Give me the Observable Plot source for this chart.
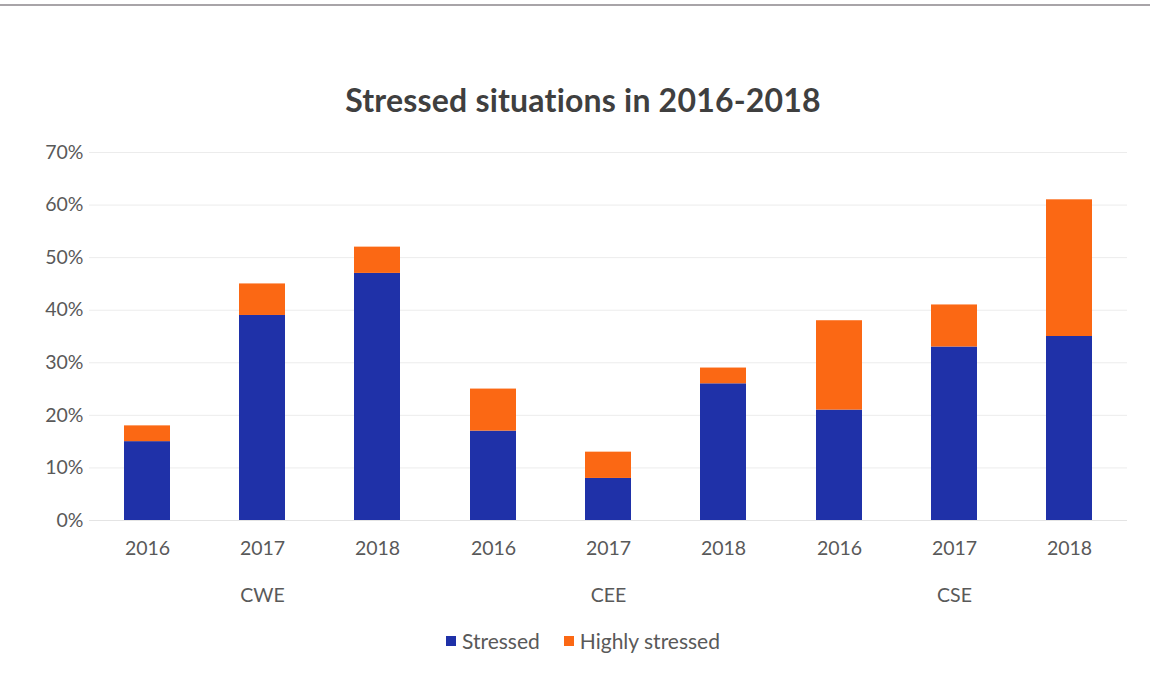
<!DOCTYPE html>
<html>
<head>
<meta charset="utf-8">
<script src="https://cdn.jsdelivr.net/npm/d3@7"></script>
<script src="https://cdn.jsdelivr.net/npm/@observablehq/plot@0.6"></script>
<style>
  html, body { margin: 0; padding: 0; background: #fff; }
  body { width: 1150px; height: 678px; overflow: hidden; font-family: Lato, "Open Sans", sans-serif; }
  #topline { position: absolute; left: 0; top: 4px; width: 1150px; height: 2px; background: #a8a4a8; }
  #title { position: absolute; left: 0; top: 80px; width: 1166px; text-align: center; font-size: 32px; font-weight: bold; color: #3f3f3f; letter-spacing: 0.2px; }
  #chart { position: absolute; left: 0; top: 130px; }
  #legend { position: absolute; left: 0; top: 628px; width: 1166px; display: flex; justify-content: center; gap: 24px; font-size: 21px; color: #595959; }
  .item { display: flex; align-items: center; gap: 6px; }
  .sw { width: 10px; height: 10px; display: inline-block; }
</style>
</head>
<body>
<div id="topline"></div>
<div id="title">Stressed situations in 2016-2018</div>
<div id="chart"></div>
<div id="legend"></div>
<script>
const regions = ["CWE", "CEE", "CSE"];
const years = ["2016", "2017", "2018"];
const seriesNames = ["Stressed", "Highly stressed"];
const seriesColors = ["#1f31a8", "#fb6814"];
// values in percent, order: CWE 2016..2018, CEE 2016..2018, CSE 2016..2018
const stressed = [15, 39, 47, 17, 8, 26, 21, 33, 35];
const highlyStressed = [3, 6, 5, 8, 5, 3, 17, 8, 26];
const yTicks = [0, 0.1, 0.2, 0.3, 0.4, 0.5, 0.6, 0.7];

const data = [];
regions.forEach((r, i) => {
  years.forEach((y, j) => {
    const k = i * years.length + j;
    data.push({region: r, year: y, series: seriesNames[0], value: stressed[k] / 100});
    data.push({region: r, year: y, series: seriesNames[1], value: highlyStressed[k] / 100});
  });
});

const chart = Plot.plot({
  width: 1150,
  height: 490,
  marginLeft: 88,
  marginRight: 23,
  marginTop: 22,
  marginBottom: 100,
  style: {fontFamily: "Lato, 'Open Sans', sans-serif", fontSize: "19px", color: "#595959", background: "transparent"},
  fx: {domain: regions, padding: 0, axis: null},
  x: {domain: years, paddingInner: 0.6, paddingOuter: 0.3, axis: null},
  y: {domain: [0, 0.7], axis: null},
  color: {domain: seriesNames, range: seriesColors},
  marks: [
    Plot.gridY(yTicks, {stroke: "#ececec", strokeOpacity: 1}),
    Plot.barY(data, {fx: "region", x: "year", y: "value", fill: "series"}),
    Plot.ruleY([0], {stroke: "#e4e4e4"}),
    Plot.axisY(yTicks, {tickSize: 0, tickPadding: 6, tickFormat: d3.format(".0%"), label: null, fill: "#595959", fontSize: 19.5}),
    Plot.axisX({tickSize: 0, tickPadding: 21, label: null, fill: "#595959", fontSize: 19.5}),
    Plot.axisFx({anchor: "bottom", tickSize: 0, tickPadding: 68, label: null, fill: "#595959", fontSize: 19.5})
  ]
});
document.getElementById("chart").appendChild(chart);

const legend = document.getElementById("legend");
seriesNames.forEach((n, i) => {
  const item = document.createElement("div");
  item.className = "item";
  const sw = document.createElement("span");
  sw.className = "sw";
  sw.style.background = seriesColors[i];
  const t = document.createElement("span");
  t.textContent = n;
  item.appendChild(sw);
  item.appendChild(t);
  legend.appendChild(item);
});
</script>
</body>
</html>
